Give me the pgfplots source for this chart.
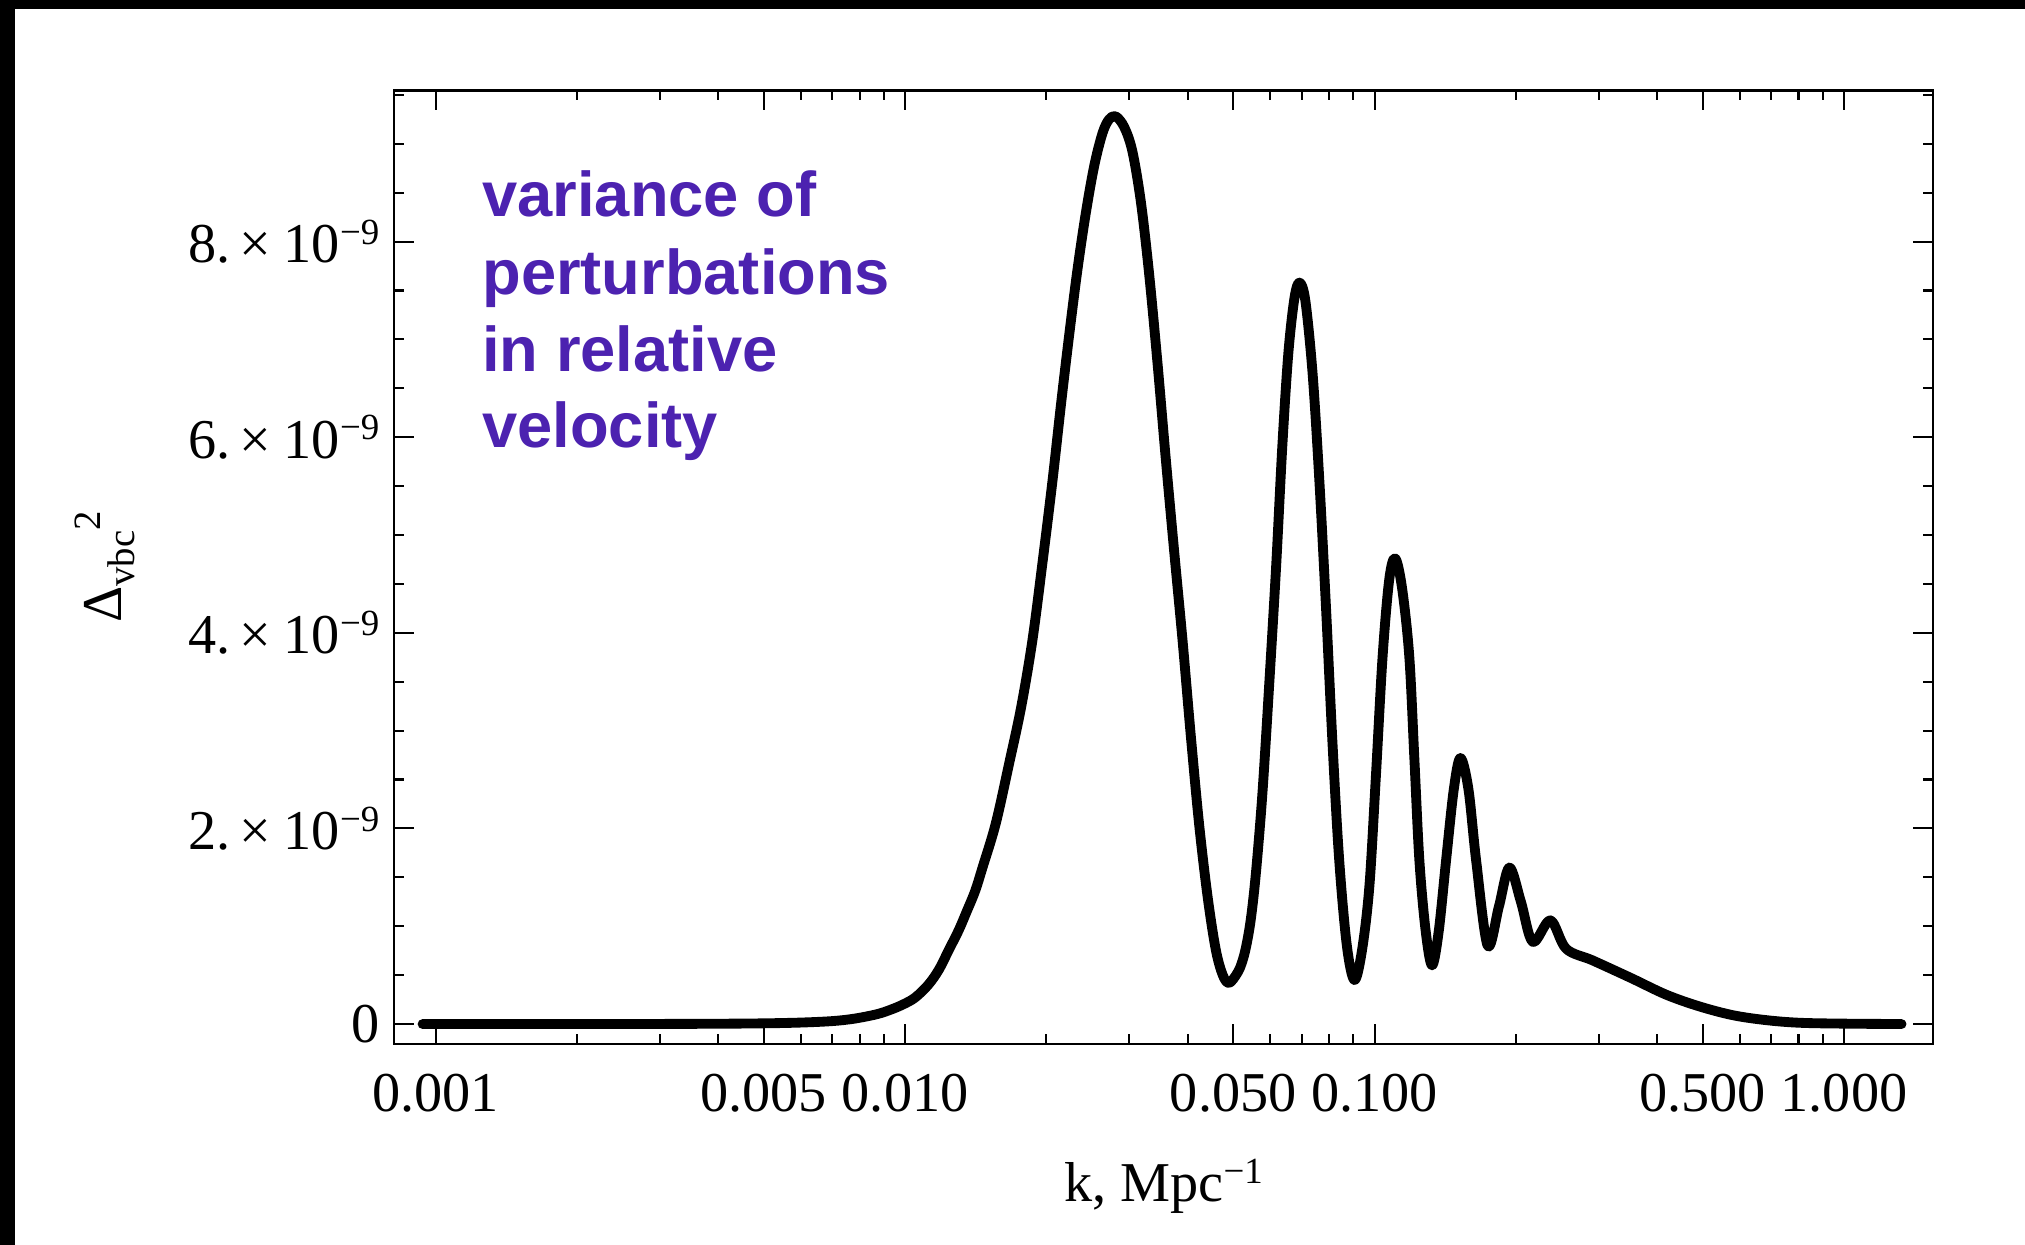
\documentclass[border=0pt]{standalone}
\usepackage{fontspec}
\setmainfont{Liberation Serif}
\newfontfamily\annotfont{Liberation Sans}
\usepackage{pgfplots}
\pgfplotsset{compat=1.18}
\definecolor{annotpurple}{RGB}{76,34,176}
\newcommand{\sups}[1]{\raisebox{5.2pt}{\fontsize{10.5}{10.5}\selectfont #1}}
\newcommand{\ylab}[1]{#1.\kern2.5pt×\kern3.5pt10\sups{−9}}
\begin{document}
\begin{tikzpicture}[x=1cm,y=1cm]
\path[use as bounding box] (0,0) rectangle (20.25,12.45);
\fill[black] (0,12.36) rectangle (20.25,12.45);
\fill[black] (0,0) rectangle (0.15,12.45);
\begin{axis}[
  at={(3.94cm,2.01cm)}, anchor=south west,
  scale only axis, width=15.39cm, height=9.54cm,
  xmode=log, xmin=8.153e-4, xmax=1.547,
  ymin=-0.204, ymax=9.55,
  axis line style={line width=0.8pt},
  tick style={line width=0.6pt, black},
  major tick length=0.2cm, minor tick length=0.1cm,
  tick align=inside,
  xtick={0.001,0.005,0.01,0.05,0.1,0.5,1},
  xticklabels={0.001,0.005,0.010,0.050,0.100,0.500,1.000},
  minor xtick={0.002,0.003,0.004,0.006,0.007,0.008,0.009,0.02,0.03,0.04,0.06,0.07,0.08,0.09,0.2,0.3,0.4,0.6,0.7,0.8,0.9},
  ytick={0,2,4,6,8},
  yticklabels={0,\ylab{2},\ylab{4},\ylab{6},\ylab{8}},
  minor ytick={0.5,1,1.5,2.5,3,3.5,4.5,5,5.5,6.5,7,7.5,8.5,9,9.5},
  ticklabel style={font=\fontsize{16}{19}\selectfont},
  xticklabel style={anchor=base, yshift=-0.68cm},
  yticklabel style={anchor=east, inner sep=0pt, xshift=-0.14cm},
  xlabel={k, Mpc\sups{−1}},
  xlabel style={at={([yshift=-1.58cm]axis description cs:0.5,0)}, anchor=base, font=\fontsize{16}{19}\selectfont},
  ylabel={Δ\raisebox{-3.5pt}{\fontsize{11}{11}\selectfont vbc}\raisebox{6pt}{\fontsize{11}{11}\selectfont 2}},
  ylabel style={at={([xshift=-2.72cm]axis description cs:0,0.5)}, anchor=base, font=\fontsize{16}{19}\selectfont},
]
\draw[line width=1.4pt] (rel axis cs:0,1) -- (rel axis cs:1,1);
\addplot[black, line width=2.8pt, smooth, tension=0.55, line cap=round, line join=round] coordinates {
(0.000938,0) (0.002,0) (0.003,0.001) (0.004,0.003) (0.005,0.007) (0.006,0.015)
(0.007,0.03) (0.0078,0.055) (0.0087,0.10) (0.0093,0.145) (0.0099,0.20) (0.0105,0.27)
(0.0112,0.40) (0.0118,0.555) (0.0124,0.76) (0.013,0.956) (0.0135,1.14) (0.0141,1.36)
(0.01462,1.60) (0.0156,2.05) (0.01667,2.67) (0.01767,3.24) (0.01867,3.92)
(0.0196,4.7) (0.0206,5.55) (0.0215,6.35) (0.02237,7.05) (0.0233,7.72) (0.02428,8.30)
(0.0253,8.78) (0.02634,9.11) (0.0272,9.25) (0.0281,9.28) (0.0293,9.17) (0.0305,8.92)
(0.0318,8.40) (0.0331,7.67) (0.0345,6.75) (0.0359,5.79) (0.0374,4.85) (0.039,3.92)
(0.0406,2.95) (0.0423,2.04) (0.0441,1.30) (0.0459,0.76) (0.0475,0.50) (0.049,0.42)
(0.0510,0.52) (0.0521,0.62) (0.0532,0.78) (0.0545,1.07) (0.0559,1.55) (0.0577,2.36)
(0.0597,3.50) (0.0617,4.67)
(0.0636,5.90) (0.0655,6.85) (0.0675,7.42) (0.0692,7.58) (0.0712,7.40) (0.0738,6.65)
(0.0763,5.55) (0.0788,4.27) (0.0814,2.85) (0.0841,1.67) (0.0873,0.80)
(0.0906,0.45) (0.094,0.75) (0.0975,1.41) (0.1007,2.55) (0.1040,3.75) (0.1075,4.55)
(0.1107,4.76) (0.1145,4.45) (0.1186,3.75) (0.1216,2.70)
(0.1246,1.67) (0.1285,0.95) (0.1326,0.60) (0.137,0.95) (0.1420,1.67) (0.1475,2.40)
(0.1524,2.72) (0.1585,2.40) (0.1646,1.67) (0.1742,0.80) (0.1840,1.20) (0.1937,1.60)
(0.2050,1.25) (0.2173,0.84) (0.2369,1.06) (0.2559,0.77)
(0.2916,0.65) (0.352,0.47) (0.418,0.30) (0.492,0.18) (0.58,0.09) (0.682,0.04)
(0.803,0.013) (1.0,0.004) (1.326,0)
};
\end{axis}
\begin{scope}[every node/.style={anchor=base west, inner sep=0pt, text=annotpurple, font=\annotfont\bfseries\fontsize{18}{21.6}\selectfont}]
\node at (4.817,10.283) {variance of};
\node at (4.817,9.50) {perturbations};
\node at (4.817,8.733) {in relative};
\node at (4.817,7.97) {velocity};
\end{scope}
\end{tikzpicture}
\end{document}
